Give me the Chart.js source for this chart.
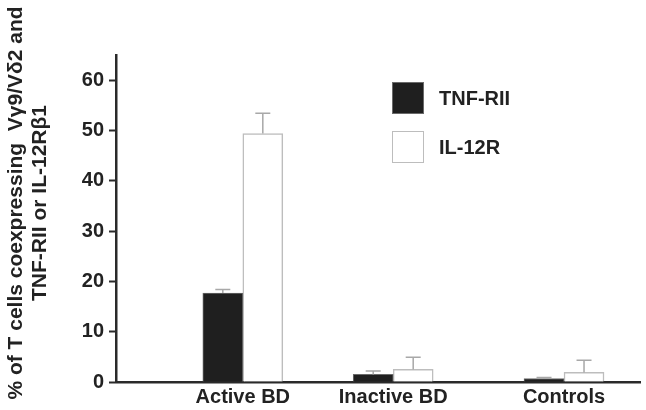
<!DOCTYPE html>
<html lang="en">
<head>
    <meta charset="UTF-8">
    <title>TNF-RII / IL-12R</title>
    <script src="https://cdn.jsdelivr.net/npm/chart.js"></script>
    <style>
        * {
            margin: 0;
            padding: 0;
            box-sizing: border-box;
        }
        body {
            background-color: #fff;
        }
        .chart-container {
            width: 646px;
            height: 410px;
        }
    </style>
</head>
<body>
    <div class="chart-container">
        <canvas id="barChart"></canvas>
    </div>

    <script>
        // data
        const categories = ['Active BD', 'Inactive BD', 'Controls'];
        const groupPos = [24.2, 52.9, 85.5];   // group centres on a 0-100 x axis (groups are not evenly spaced)
        const tnfValues = [17.7, 1.5, 0.7];
        const tnfErrors = [0.7, 0.7, 0.2];
        const il12Values = [49.4, 2.5, 1.9];
        const il12Errors = [4.0, 2.4, 2.4];
        const yTicks = [0, 10, 20, 30, 40, 50, 60];
        const titleLines = ['% of T cells coexpressing  V\u03B39/V\u03B42 and', 'TNF-RII or IL-12R\u03B21'];

        const FONT = '"Liberation Sans", Arial, sans-serif';

        const toPoints = vals => vals.map((v, i) => ({ x: groupPos[i], y: v }));

        // upper error bars
        const errorBars = {
            id: 'errorBars',
            afterDatasetsDraw(chart) {
                const ctx = chart.ctx;
                const y = chart.scales.y;
                ctx.save();
                ctx.strokeStyle = '#a8a8a8';
                ctx.lineWidth = 1.5;
                chart.data.datasets.forEach((ds, di) => {
                    const meta = chart.getDatasetMeta(di);
                    meta.data.forEach((bar, i) => {
                        const top = y.getPixelForValue(ds.data[i].y + ds.errors[i]);
                        ctx.beginPath();
                        ctx.moveTo(bar.x, bar.y);
                        ctx.lineTo(bar.x, top);
                        ctx.moveTo(bar.x - 7.5, top);
                        ctx.lineTo(bar.x + 7.5, top);
                        ctx.stroke();
                    });
                });
                ctx.restore();
            }
        };

        // legend inside the plot + rotated two-line y title
        const extras = {
            id: 'extras',
            afterDraw(chart) {
                const ctx = chart.ctx;
                ctx.save();
                ctx.font = 'bold 20px ' + FONT;
                ctx.textBaseline = 'middle';
                chart.data.datasets.forEach((ds, i) => {
                    const top = 82 + i * 49;
                    ctx.fillStyle = ds.backgroundColor;
                    ctx.fillRect(392, top, 32, 32);
                    ctx.strokeStyle = ds.borderColor;
                    ctx.lineWidth = 1;
                    ctx.strokeRect(392.5, top + 0.5, 31, 31);
                    ctx.fillStyle = '#222';
                    ctx.textAlign = 'left';
                    ctx.fillText(ds.label, 439, top + 17);
                });

                ctx.font = 'bold 21px ' + FONT;
                ctx.translate(0, 203);
                ctx.rotate(-Math.PI / 2);
                ctx.textAlign = 'center';
                ctx.fillStyle = '#222';
                ctx.fillText(titleLines[0], 0, 16);
                ctx.fillText(titleLines[1], 0, 40);
                ctx.restore();
            }
        };

        const ctx = document.getElementById('barChart').getContext('2d');
        new Chart(ctx, {
            type: 'bar',
            data: {
                datasets: [{
                    label: 'TNF-RII',
                    data: toPoints(tnfValues),
                    errors: tnfErrors,
                    backgroundColor: '#1f1f1f',
                    borderColor: '#6a6a6a',
                    borderWidth: 1,
                    borderSkipped: 'bottom'
                }, {
                    label: 'IL-12R',
                    data: toPoints(il12Values),
                    errors: il12Errors,
                    backgroundColor: '#ffffff',
                    borderColor: '#bdbdbd',
                    borderWidth: 1.5,
                    borderSkipped: 'bottom'
                }]
            },
            options: {
                responsive: true,
                maintainAspectRatio: false,
                animation: false,
                barThickness: 40,
                layout: {
                    padding: { top: 55, right: 6, left: 0, bottom: 0 }
                },
                plugins: {
                    legend: { display: false },
                    tooltip: { enabled: false }
                },
                scales: {
                    x: {
                        type: 'linear',
                        min: 0,
                        max: 100,
                        offset: false,
                        grid: { display: false, drawTicks: false },
                        border: { display: true, color: '#2a2a2a', width: 2.5 },
                        afterBuildTicks: scale => {
                            scale.ticks = groupPos.map(v => ({ value: v }));
                        },
                        afterFit: scale => { scale.height = 28; },
                        ticks: {
                            autoSkip: false,
                            maxRotation: 0,
                            padding: 3,
                            color: '#222',
                            font: { family: FONT, size: 20, weight: 'bold' },
                            callback: (val, i) => categories[i]
                        }
                    },
                    y: {
                        min: 0,
                        max: 65,
                        grid: {
                            drawOnChartArea: false,
                            drawTicks: true,
                            tickLength: 7,
                            tickWidth: 2,
                            tickColor: '#2a2a2a'
                        },
                        border: { display: true, color: '#2a2a2a', width: 2.5 },
                        afterBuildTicks: scale => {
                            scale.ticks = yTicks.map(v => ({ value: v }));
                        },
                        afterFit: scale => { scale.width = 116; },
                        ticks: {
                            padding: 5,
                            color: '#222',
                            font: { family: FONT, size: 20, weight: 'bold' }
                        }
                    }
                }
            },
            plugins: [errorBars, extras]
        });
    </script>
</body>
</html>
